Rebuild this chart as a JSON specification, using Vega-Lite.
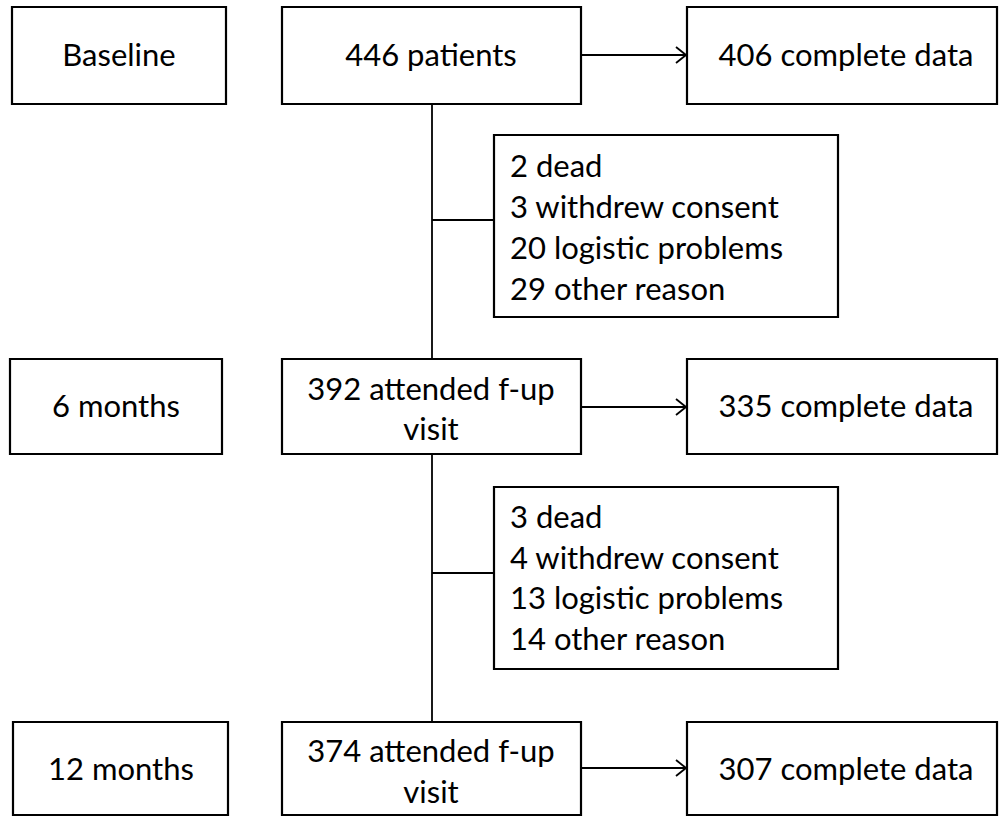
{
  "$schema": "https://vega.github.io/schema/vega-lite/v6.json",
  "width": 1000,
  "height": 818,
  "autosize": {"type": "fit", "contains": "padding"},
  "padding": 0,
  "background": "white",
  "config": {"view": {"stroke": null}},
  "datasets": {
    "boxes": [
      {"id": "baseline", "x1": 12, "x2": 226, "y1": 7, "y2": 104},
      {"id": "p446", "x1": 282, "x2": 581, "y1": 7, "y2": 104},
      {"id": "c406", "x1": 687, "x2": 997, "y1": 7, "y2": 104},
      {"id": "ex1", "x1": 494, "x2": 838, "y1": 135, "y2": 317},
      {"id": "m6", "x1": 10, "x2": 222, "y1": 359, "y2": 454},
      {"id": "a392", "x1": 282, "x2": 581, "y1": 359, "y2": 454},
      {"id": "c335", "x1": 687, "x2": 997, "y1": 359, "y2": 454},
      {"id": "ex2", "x1": 494, "x2": 838, "y1": 487, "y2": 669},
      {"id": "m12", "x1": 13, "x2": 228, "y1": 722, "y2": 815},
      {"id": "a374", "x1": 282, "x2": 581, "y1": 722, "y2": 815},
      {"id": "c307", "x1": 687, "x2": 997, "y1": 722, "y2": 815}
    ],
    "lines": [
      {"x1": 432, "y1": 104, "x2": 432, "y2": 359},
      {"x1": 432, "y1": 454, "x2": 432, "y2": 722},
      {"x1": 432, "y1": 220, "x2": 494, "y2": 220},
      {"x1": 432, "y1": 573, "x2": 494, "y2": 573},
      {"x1": 581, "y1": 55, "x2": 686, "y2": 55},
      {"x1": 676, "y1": 47, "x2": 686, "y2": 55},
      {"x1": 676, "y1": 63, "x2": 686, "y2": 55},
      {"x1": 581, "y1": 407, "x2": 686, "y2": 407},
      {"x1": 676, "y1": 399, "x2": 686, "y2": 407},
      {"x1": 676, "y1": 415, "x2": 686, "y2": 407},
      {"x1": 581, "y1": 768, "x2": 686, "y2": 768},
      {"x1": 676, "y1": 760, "x2": 686, "y2": 768},
      {"x1": 676, "y1": 776, "x2": 686, "y2": 768}
    ],
    "centerLabels": [
      {"x": 119, "y": 66, "label": "Baseline"},
      {"x": 431, "y": 66, "label": "446 patients"},
      {"x": 846, "y": 66, "label": "406 complete data"},
      {"x": 116, "y": 417, "label": "6 months"},
      {"x": 431, "y": 400, "label": "392 attended f-up"},
      {"x": 431, "y": 440, "label": "visit"},
      {"x": 846, "y": 417, "label": "335 complete data"},
      {"x": 121, "y": 780, "label": "12 months"},
      {"x": 431, "y": 762, "label": "374 attended f-up"},
      {"x": 431, "y": 803, "label": "visit"},
      {"x": 846, "y": 780, "label": "307 complete data"}
    ],
    "leftLabels": [
      {"x": 510, "y": 177, "label": "2 dead"},
      {"x": 510, "y": 218, "label": "3 withdrew consent"},
      {"x": 510, "y": 259, "label": "20 logistic problems"},
      {"x": 510, "y": 300, "label": "29 other reason"},
      {"x": 510, "y": 528, "label": "3 dead"},
      {"x": 510, "y": 569, "label": "4 withdrew consent"},
      {"x": 510, "y": 609, "label": "13 logistic problems"},
      {"x": 510, "y": 650, "label": "14 other reason"}
    ]
  },
  "layer": [
    {
      "data": {"name": "boxes"},
      "mark": {"type": "rect", "fill": "white", "stroke": "black", "strokeWidth": 2.2},
      "encoding": {
        "x": {"field": "x1", "type": "quantitative", "scale": {"domain": [0, 1000], "nice": false, "zero": false}, "axis": null},
        "x2": {"field": "x2"},
        "y": {"field": "y1", "type": "quantitative", "scale": {"domain": [0, 818], "nice": false, "zero": false, "reverse": true}, "axis": null},
        "y2": {"field": "y2"}
      }
    },
    {
      "data": {"name": "lines"},
      "mark": {"type": "rule", "color": "black", "strokeWidth": 1.8},
      "encoding": {
        "x": {"field": "x1", "type": "quantitative"},
        "x2": {"field": "x2"},
        "y": {"field": "y1", "type": "quantitative"},
        "y2": {"field": "y2"}
      }
    },
    {
      "data": {"name": "centerLabels"},
      "mark": {"type": "text", "font": "Lato", "fontSize": 31, "align": "center", "baseline": "alphabetic", "color": "black"},
      "encoding": {
        "x": {"field": "x", "type": "quantitative"},
        "y": {"field": "y", "type": "quantitative"},
        "text": {"field": "label"}
      }
    },
    {
      "data": {"name": "leftLabels"},
      "mark": {"type": "text", "font": "Lato", "fontSize": 31, "align": "left", "baseline": "alphabetic", "color": "black"},
      "encoding": {
        "x": {"field": "x", "type": "quantitative"},
        "y": {"field": "y", "type": "quantitative"},
        "text": {"field": "label"}
      }
    }
  ]
}
